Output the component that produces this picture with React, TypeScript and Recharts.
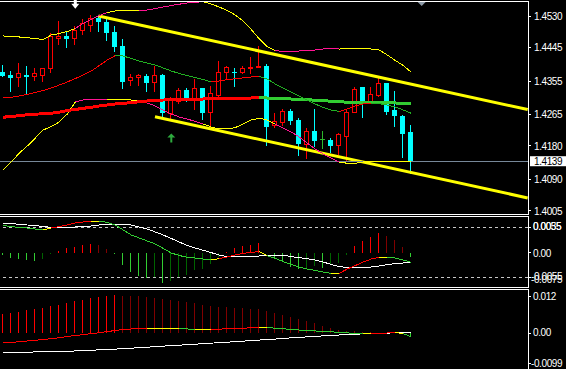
import React from "react";
import { ComposedChart, Bar, Line, XAxis, YAxis, ReferenceLine, ReferenceDot, Cell } from "recharts";

// ---------- colours ----------
const CYAN = "#00FFFF";
const RED = "#FF0000";
const DARK_RED = "#800000";
const LIME = "#32CD32";
const FAST_GREEN = "#22B022";
const DARK_GREEN = "#006400";
const YELLOW = "#FFFF00";
const PINK = "#FF1493";
const WHITE = "#FFFFFF";
const DOJI = "#2DB82D";
const FONT = "'Liberation Sans', Arial, sans-serif";

const PLOT_W = 528;
const AXIS_W = 38;
const X_DOMAIN: [number, number] = [-0.4125, 65.5875];

// ---------- price data (one entry per bar) ----------
const opens = [1.4380,1.4371,1.4365,1.4371,1.4368,1.4370,1.4389,1.4470,1.4477,1.4469,1.4492,1.4505,1.4524,1.4515,1.4486,1.4449,1.4356,1.4365,1.4368,1.4350,1.4371,1.4268,1.4301,1.4331,1.4306,1.4335,1.4270,1.4317,1.4378,1.4380,1.4378,1.4388,1.4391,1.4395,1.4235,1.4243,1.4274,1.4250,1.4183,1.4220,1.4198,1.4196,1.4181,1.4205,1.4270,1.4338,1.4299,1.4317,1.4349,1.4277,1.4262,1.4217];
const highs = [1.4398,1.4383,1.4404,1.4396,1.4389,1.4389,1.4483,1.4517,1.4488,1.4503,1.4521,1.4533,1.4533,1.4524,1.4503,1.4467,1.4374,1.4374,1.4374,1.4395,1.4374,1.4313,1.4335,1.4335,1.4360,1.4336,1.4342,1.4409,1.4396,1.4389,1.4396,1.4419,1.4449,1.4401,1.4270,1.4280,1.4279,1.4255,1.4229,1.4280,1.4220,1.4202,1.4216,1.4279,1.4338,1.4338,1.4338,1.4369,1.4349,1.4329,1.4263,1.4237];
const lows = [1.4365,1.4325,1.4338,1.4319,1.4354,1.4353,1.4377,1.4451,1.4443,1.4451,1.4478,1.4488,1.4488,1.4464,1.4434,1.4333,1.4342,1.4342,1.4326,1.4326,1.4255,1.4252,1.4293,1.4299,1.4277,1.4250,1.4225,1.4313,1.4358,1.4340,1.4374,1.4374,1.4391,1.4181,1.4228,1.4234,1.4237,1.4154,1.4145,1.4178,1.4172,1.4160,1.4156,1.4140,1.4269,1.4255,1.4295,1.4313,1.4263,1.4230,1.4147,1.4105];
const closes = [1.43685,1.4364,1.4374,1.4367,1.4374,1.4389,1.4474,1.4476,1.4468,1.4492,1.4509,1.4524,1.4515,1.4485,1.4447,1.4353,1.4365,1.43685,1.4349,1.4371,1.4268,1.4304,1.4329,1.4306,1.4335,1.4270,1.4322,1.4378,1.4392,1.4376,1.4389,1.4392,1.4394,1.4232,1.4245,1.4274,1.4248,1.4185,1.4220,1.4194,1.4198,1.4181,1.4210,1.4271,1.4331,1.4299,1.4319,1.4349,1.4272,1.4261,1.4212,1.4139];

const maSlow = [1.42575,1.42594,1.42616,1.42640,1.42656,1.42669,1.42683,1.42710,1.42756,1.42783,1.42815,1.42844,1.42877,1.42904,1.42931,1.42949,1.42966,1.42993,1.43011,1.43033,1.43038,1.43046,1.43057,1.43060,1.43062,1.43065,1.43071,1.43073,1.43076,1.43081,1.43087,1.43092,1.43097,1.43092,1.43084,1.43073,1.43065,1.43057,1.43046,1.43033,1.43019,1.43006,1.42993,1.42977,1.42971,1.42969,1.42966,1.42963,1.42960,1.42958,1.42955,1.42952];
const maFast = [1.43092,1.43111,1.43146,1.43192,1.43240,1.43294,1.43361,1.43442,1.43523,1.43617,1.43711,1.43819,1.43967,1.44115,1.44236,1.44223,1.44156,1.44088,1.44035,1.43981,1.43900,1.43819,1.43752,1.43698,1.43644,1.43590,1.43523,1.43550,1.43590,1.43609,1.43636,1.43658,1.43671,1.43604,1.43469,1.43361,1.43254,1.43146,1.43038,1.42931,1.42836,1.42769,1.42729,1.42796,1.42877,1.42931,1.42949,1.42941,1.42904,1.42850,1.42769,1.42680];
const bandUpper = [1.44762,1.44748,1.44735,1.44716,1.44694,1.44667,1.44788,1.44829,1.44883,1.44963,1.45103,1.45206,1.45313,1.45394,1.45435,1.45443,1.45448,1.45456,1.45462,1.45502,1.45542,1.45583,1.45618,1.45650,1.45672,1.45682,1.45623,1.45542,1.45448,1.45327,1.45165,1.44937,1.44681,1.44473,1.44371,1.44344,1.44344,1.44358,1.44371,1.44385,1.44411,1.44438,1.44411,1.44425,1.44425,1.44425,1.44411,1.44385,1.44250,1.44102,1.43967,1.43784];
const bandLower = [1.41154,1.41369,1.41611,1.41800,1.42015,1.42231,1.42325,1.42446,1.42661,1.42984,1.43038,1.43052,1.43057,1.43057,1.43057,1.43052,1.43038,1.43011,1.42958,1.42877,1.42769,1.42661,1.42581,1.42527,1.42459,1.42392,1.42311,1.42258,1.42258,1.42298,1.42392,1.42500,1.42546,1.42500,1.42392,1.42276,1.42177,1.42042,1.41881,1.41719,1.41584,1.41477,1.41369,1.41334,1.41334,1.41369,1.41377,1.41377,1.41377,1.41377,1.41382,1.41396];

const channelUpper = [{ i: 11.9, p: 1.4530 }, { i: 65.55, p: 1.42782 }];
const channelLower = [{ i: 18.96, p: 1.42589 }, { i: 65.55, p: 1.40402 }];
const sellArrows = [{ i: 9, p: 1.4560 }];
const buyArrows = [{ i: 21, p: 1.4203 }];
const shiftMarker = [{ i: 52.3, p: 1.4564 }];

const priceTicks = [1.4530, 1.4445, 1.4355, 1.4265, 1.4180, 1.4090, 1.4005];
const priceDomain: [number, number] = [1.39969, 1.45704];
const currentPrice = 1.4139;

// ---------- oscillator 1 ----------
const osc1Hist = [-0.00055,-0.00114,-0.00143,-0.00165,-0.00180,-0.00150,-0.00033,0.00040,0.00092,0.00128,0.00165,0.00187,0.00165,0.00084,-0.00033,-0.00275,-0.00422,-0.00517,-0.00568,-0.00561,-0.00664,-0.00627,-0.00532,-0.00495,-0.00385,-0.00370,-0.00260,-0.00092,0.00022,0.00092,0.00150,0.00176,0.00216,-0.00011,-0.00128,-0.00202,-0.00312,-0.00363,-0.00348,-0.00290,-0.00348,-0.00275,-0.00238,-0.00055,0.00143,0.00260,0.00348,0.00436,0.00370,0.00275,0.00128,-0.00092];
const osc1Main = [0.00642,0.00642,0.00616,0.00605,0.00594,0.00572,0.00554,0.00554,0.00554,0.00561,0.00568,0.00583,0.00605,0.00620,0.00620,0.00620,0.00605,0.00561,0.00517,0.00451,0.00385,0.00308,0.00231,0.00154,0.00099,0.00048,-0.00004,-0.00055,-0.00092,-0.00092,-0.00088,-0.00088,-0.00077,-0.00070,-0.00062,-0.00055,-0.00092,-0.00114,-0.00136,-0.00165,-0.00209,-0.00264,-0.00308,-0.00334,-0.00334,-0.00330,-0.00319,-0.00297,-0.00268,-0.00242,-0.00231,-0.00216];
const osc1Signal = [0.00594,0.00568,0.00554,0.00539,0.00517,0.00495,0.00539,0.00572,0.00605,0.00649,0.00671,0.00693,0.00693,0.00660,0.00605,0.00495,0.00385,0.00319,0.00253,0.00187,0.00088,-0.00011,-0.00066,-0.00106,-0.00121,-0.00143,-0.00165,-0.00132,-0.00099,-0.00055,-0.00018,0.00004,0.00018,-0.00070,-0.00128,-0.00202,-0.00264,-0.00319,-0.00363,-0.00396,-0.00429,-0.00458,-0.00458,-0.00363,-0.00286,-0.00209,-0.00143,-0.00106,-0.00106,-0.00121,-0.00165,-0.00216];
const osc1Levels = [0.0055, -0.0055];
const osc1Ticks = [0.0055, 0, -0.0055];
const osc1Labels = [["0.0055", "0.0035"], ["0.00"], ["-0.0055", "-0.0075"]];
const osc1Domain: [number, number] = [-0.00781, 0.00803];

// ---------- oscillator 2 ----------
const osc2Hist = [0.00540,0.00568,0.00596,0.00651,0.00679,0.00706,0.00762,0.00789,0.00845,0.00900,0.00928,0.00983,0.01011,0.01039,0.01066,0.01039,0.01035,0.01030,0.01011,0.00983,0.00956,0.00928,0.00900,0.00873,0.00845,0.00789,0.00762,0.00734,0.00730,0.00706,0.00700,0.00679,0.00675,0.00623,0.00568,0.00512,0.00457,0.00402,0.00346,0.00291,0.00208,0.00152,0.00097,0.00069,0.00065,0.00042,0.00022,0.00014,0.00010,0.00005,-0.00030,-0.00090];
const osc2Main = [-0.00546,-0.00526,-0.00524,-0.00521,-0.00518,-0.00515,-0.00507,-0.00499,-0.00496,-0.00490,-0.00476,-0.00468,-0.00460,-0.00449,-0.00438,-0.00427,-0.00416,-0.00396,-0.00385,-0.00368,-0.00357,-0.00341,-0.00330,-0.00313,-0.00302,-0.00285,-0.00274,-0.00258,-0.00247,-0.00230,-0.00219,-0.00199,-0.00188,-0.00172,-0.00161,-0.00141,-0.00127,-0.00111,-0.00100,-0.00086,-0.00072,-0.00058,-0.00047,-0.00033,-0.00025,-0.00017,-0.00008,0.00000,0.00006,0.00011,0.00019,0.00025];
const osc2Signal = [-0.00269,-0.00255,-0.00233,-0.00213,-0.00194,-0.00172,-0.00150,-0.00122,-0.00089,-0.00061,-0.00036,-0.00011,0.00017,0.00047,0.00078,0.00105,0.00119,0.00127,0.00133,0.00136,0.00136,0.00136,0.00133,0.00119,0.00111,0.00108,0.00108,0.00114,0.00130,0.00136,0.00141,0.00152,0.00163,0.00158,0.00141,0.00125,0.00108,0.00091,0.00078,0.00064,0.00050,0.00039,0.00028,0.00011,-0.00006,-0.00011,-0.00008,0.00003,0.00008,0.00022,-0.00010,-0.00100];
const osc2Ticks = [0.012, 0, -0.0099];
const osc2Labels = [["0.012"], ["0.00"], ["-0.0099"]];
const osc2Domain: [number, number] = [-0.0099, 0.012];

// ---------- helpers ----------
type Row = Record<string, any>;
type Run = { key: string; color: string };

function addRuns(rows: Row[], values: number[], prefix: string, colorOf: (k: number) => string): Run[] {
  const runs: Run[] = [];
  let cur: Run | null = null;
  for (let k = 1; k < values.length; k++) {
    const col = colorOf(k);
    if (!cur || cur.color !== col) {
      cur = { key: prefix + runs.length, color: col };
      runs.push(cur);
      rows[k - 1][cur.key] = values[k - 1];
    }
    rows[k][cur.key] = values[k];
  }
  return runs;
}

const turnColor = (vals: number[], eps: number) => (k: number) => {
  const d = vals[k] - vals[k - 1];
  if (Math.abs(d) < eps) return YELLOW;
  const prev = k > 1 ? vals[k - 1] - vals[k - 2] : d;
  if (Math.abs(prev) >= eps && Math.sign(prev) !== Math.sign(d)) return YELLOW;
  return d > 0 ? RED : LIME;
};

const histColor = (vals: number[], k: number, posUp: string, posDown: string, negUp: string, negDown: string) => {
  const v = vals[k];
  const p = k > 0 ? vals[k - 1] : 0;
  if (v >= 0) return v >= p ? posUp : posDown;
  return v <= p ? negUp : negDown;
};

// ---------- rows ----------
const mainRows: Row[] = opens.map((o, k) => ({ i: k, o, h: highs[k], l: lows[k], c: closes[k] }));
const bandWidth = bandUpper.map((u, k) => u - bandLower[k]);
const bandColor = (k: number) => (bandWidth[k] - bandWidth[k - 1] > 0.0005 ? PINK : YELLOW);
const upperRuns = addRuns(mainRows, bandUpper, "bu", bandColor);
const lowerRuns = addRuns(mainRows, bandLower, "bl", bandColor);
const slowRuns = addRuns(mainRows, maSlow, "ms", (k) => (maSlow[k] >= maSlow[k - 1] ? RED : LIME));
const fastRuns = addRuns(mainRows, maFast, "mf", (k) => (maFast[k] >= maFast[k - 1] ? RED : FAST_GREEN));

const osc1Rows: Row[] = osc1Hist.map((v, k) => ({ i: k, hist: v, main: osc1Main[k] }));
const osc1Runs = addRuns(osc1Rows, osc1Signal, "sg", turnColor(osc1Signal, 0.00005));
const osc2Rows: Row[] = osc2Hist.map((v, k) => ({ i: k, hist: v, main: osc2Main[k] }));
const osc2Runs = addRuns(osc2Rows, osc2Signal, "sg", turnColor(osc2Signal, 0.00004));

// ---------- shapes ----------
const Candle = (props: any) => {
  const { x, y, width, height, payload } = props;
  if (!payload || x == null) return null;
  const { o, h, l, c } = payload;
  const top = Math.min(y, y + height);
  const bot = Math.max(y, y + height);
  const span = h - l || 1e-9;
  const py = (v: number) => top + ((h - v) / span) * (bot - top);
  const cx = Math.floor(x + width / 2) + 0.5;
  const yo = py(o);
  const yc = py(c);
  const bTop = Math.min(yo, yc);
  const bH = Math.max(Math.abs(yo - yc), 1);
  if (c > o) {
    return (
      <g shapeRendering="crispEdges">
        <line x1={cx} x2={cx} y1={top} y2={bot} stroke={RED} />
        <rect x={cx - 2} y={bTop} width={4} height={bH} fill="#000" stroke={RED} />
      </g>
    );
  }
  if (c < o) {
    return (
      <g shapeRendering="crispEdges">
        <line x1={cx} x2={cx} y1={top} y2={bot} stroke={CYAN} />
        <rect x={cx - 2.5} y={bTop} width={5} height={bH} fill={CYAN} />
      </g>
    );
  }
  return (
    <g shapeRendering="crispEdges">
      <line x1={cx} x2={cx} y1={top} y2={bot} stroke={DOJI} />
      <line x1={cx - 2.5} x2={cx + 2.5} y1={yo} y2={yo} stroke={DOJI} />
    </g>
  );
};

const DownArrow = (p: any) => {
  const { cx, cy } = p;
  return (
    <path
      d={`M${cx - 1.5},${cy - 5} L${cx + 1.5},${cy - 5} L${cx + 1.5},${cy - 1} L${cx + 4},${cy - 1} L${cx},${cy + 4} L${cx - 4},${cy - 1} L${cx - 1.5},${cy - 1} Z`}
      fill={WHITE}
    />
  );
};
const UpArrow = (p: any) => {
  const { cx, cy } = p;
  return (
    <path
      d={`M${cx - 1},${cy + 5} L${cx + 1},${cy + 5} L${cx + 1},${cy} L${cx + 4},${cy} L${cx},${cy - 4} L${cx - 4},${cy} L${cx - 1},${cy} Z`}
      fill="#2EAA3E"
    />
  );
};
const ShiftTriangle = (p: any) => {
  const { cx, cy } = p;
  return <path d={`M${cx - 5},${cy - 2.5} L${cx + 5},${cy - 2.5} L${cx},${cy + 2.5} Z`} fill="#8C99A6" />;
};

const textProps = { fill: WHITE, fontSize: 10, fontFamily: FONT, letterSpacing: -0.4 } as const;

const PriceTick = (p: any) => {
  const { y, payload } = p;
  return (
    <g>
      <line x1={PLOT_W} x2={PLOT_W + 3} y1={y} y2={y} stroke={WHITE} shapeRendering="crispEdges" />
      <text x={PLOT_W + 6} y={y + 3.6} {...textProps}>{Number(payload.value).toFixed(4)}</text>
    </g>
  );
};

const makeOscTick = (ticks: number[], labels: string[][], offsets: number[][], minY: number, maxY: number) => (p: any) => {
  const { y, payload } = p;
  const k = ticks.indexOf(payload.value);
  if (k < 0) return null;
  const yy = Math.min(Math.max(y, minY), maxY);
  return (
    <g>
      <line x1={PLOT_W} x2={PLOT_W + 3} y1={yy} y2={yy} stroke={WHITE} shapeRendering="crispEdges" />
      {labels[k].map((t, j) => (
        <text key={j} x={PLOT_W + (t.startsWith("-") ? 3 : 5)} y={yy + 3.6 + offsets[k][j]} {...textProps}>{t}</text>
      ))}
    </g>
  );
};
const Osc1Tick = makeOscTick(osc1Ticks, osc1Labels, [[-1.5, -1], [0.8], [-1.5, 2]], 0, 72);
const Osc2Tick = makeOscTick(osc2Ticks, osc2Labels, [[0], [-1], [0]], 6.7, 73);

const PriceLabel = (p: any) => {
  const vb = p.viewBox || {};
  const y = vb.y ?? 0;
  const x = (vb.x ?? 0) + (vb.width ?? PLOT_W) + 2;
  return (
    <g>
      <rect x={x} y={y - 5} width={36} height={10} fill={WHITE} />
      <text x={x + 4} y={y + 3.6} fill="#000" fontSize={10} fontFamily={FONT} letterSpacing={-0.4}>{currentPrice.toFixed(4)}</text>
    </g>
  );
};

const lineCommon = { dot: false, activeDot: false, isAnimationActive: false, type: "linear" as const, shapeRendering: "crispEdges" } as any;

export default function App() {
  return (
    <div style={{ position: "absolute", left: 0, top: 0, width: 566, height: 369, background: "#000", overflow: "hidden" }}>
      {/* main price panel (extra bottom margin keeps the lowest label uncut) */}
      <div style={{ position: "absolute", left: 0, top: 0 }}>
        <ComposedChart width={566} height={221} data={mainRows} margin={{ top: 1, right: 0, bottom: 7, left: 0 }}>
          <XAxis type="number" dataKey="i" domain={X_DOMAIN} hide allowDataOverflow />
          <YAxis orientation="right" width={AXIS_W} domain={priceDomain} ticks={priceTicks} allowDataOverflow interval={0} tick={PriceTick} tickLine={false} axisLine={false} />
          <ReferenceLine segment={[{ x: channelUpper[0].i, y: channelUpper[0].p }, { x: channelUpper[1].i, y: channelUpper[1].p }]} stroke={YELLOW} strokeWidth={3} ifOverflow="hidden" />
          <ReferenceLine segment={[{ x: channelLower[0].i, y: channelLower[0].p }, { x: channelLower[1].i, y: channelLower[1].p }]} stroke={YELLOW} strokeWidth={3} ifOverflow="hidden" />
          <ReferenceLine y={currentPrice} stroke="#778899" shapeRendering="crispEdges" label={<PriceLabel />} />
          {upperRuns.map((r) => <Line key={r.key} dataKey={r.key} stroke={r.color} strokeWidth={1} {...lineCommon} />)}
          {lowerRuns.map((r) => <Line key={r.key} dataKey={r.key} stroke={r.color} strokeWidth={1} {...lineCommon} />)}
          {slowRuns.map((r) => <Line key={r.key} dataKey={r.key} stroke={r.color} strokeWidth={3} {...lineCommon} />)}
          {fastRuns.map((r) => <Line key={r.key} dataKey={r.key} stroke={r.color} strokeWidth={1} {...lineCommon} />)}
          <Bar dataKey={(r: Row) => [r.l, r.h]} barSize={5} shape={<Candle />} isAnimationActive={false} />
          {sellArrows.map((a, k) => <ReferenceDot key={"s" + k} x={a.i} y={a.p} shape={<DownArrow />} />)}
          {buyArrows.map((a, k) => <ReferenceDot key={"b" + k} x={a.i} y={a.p} shape={<UpArrow />} />)}
          {shiftMarker.map((a, k) => <ReferenceDot key={"m" + k} x={a.i} y={a.p} shape={<ShiftTriangle />} />)}
        </ComposedChart>
      </div>

      {/* oscillator 1 */}
      <div style={{ position: "absolute", left: 0, top: 216 }}>
        <ComposedChart width={566} height={72} data={osc1Rows} margin={{ top: 0, right: 0, bottom: 0, left: 0 }}>
          <XAxis type="number" dataKey="i" domain={X_DOMAIN} hide allowDataOverflow />
          <YAxis orientation="right" width={AXIS_W} domain={osc1Domain} ticks={osc1Ticks} allowDataOverflow interval={0} tick={Osc1Tick} tickLine={false} axisLine={false} />
          {osc1Levels.map((lv) => <ReferenceLine key={lv} y={lv} stroke="#C8C8C8" strokeDasharray="3 3" shapeRendering="crispEdges" />)}
          <Bar dataKey="hist" barSize={1} isAnimationActive={false} shapeRendering="crispEdges">
            {osc1Hist.map((_, k) => <Cell key={k} fill={histColor(osc1Hist, k, RED, DARK_RED, LIME, DARK_GREEN)} />)}
          </Bar>
          <Line dataKey="main" stroke={WHITE} strokeWidth={1} {...lineCommon} />
          {osc1Runs.map((r) => <Line key={r.key} dataKey={r.key} stroke={r.color} strokeWidth={1} {...lineCommon} />)}
        </ComposedChart>
      </div>

      {/* oscillator 2 */}
      <div style={{ position: "absolute", left: 0, top: 290 }}>
        <ComposedChart width={566} height={79} data={osc2Rows} margin={{ top: 0, right: 0, bottom: 0, left: 0 }}>
          <XAxis type="number" dataKey="i" domain={X_DOMAIN} hide allowDataOverflow />
          <YAxis orientation="right" width={AXIS_W} domain={osc2Domain} ticks={osc2Ticks} allowDataOverflow interval={0} tick={Osc2Tick} tickLine={false} axisLine={false} />
          <Bar dataKey="hist" barSize={1} isAnimationActive={false} shapeRendering="crispEdges">
            {osc2Hist.map((_, k) => <Cell key={k} fill={histColor(osc2Hist, k, RED, DARK_RED, LIME, LIME)} />)}
          </Bar>
          <Line dataKey="main" stroke={WHITE} strokeWidth={1} {...lineCommon} />
          {osc2Runs.map((r) => <Line key={r.key} dataKey={r.key} stroke={r.color} strokeWidth={1} {...lineCommon} />)}
        </ComposedChart>
      </div>

      {/* panel frames */}
      <svg width={566} height={369} style={{ position: "absolute", left: 0, top: 0, pointerEvents: "none" }} shapeRendering="crispEdges">
        <g stroke={WHITE} strokeWidth={1}>
          <line x1={0} x2={PLOT_W + 0.5} y1={1.5} y2={1.5} />
          <line x1={PLOT_W + 0.5} x2={PLOT_W + 0.5} y1={1} y2={215} />
          <line x1={0} x2={PLOT_W + 0.5} y1={214.5} y2={214.5} />
          <line x1={0} x2={PLOT_W + 0.5} y1={216.5} y2={216.5} />
          <line x1={PLOT_W + 0.5} x2={PLOT_W + 0.5} y1={216} y2={288} />
          <line x1={0} x2={PLOT_W + 0.5} y1={287.5} y2={287.5} />
          <line x1={0} x2={PLOT_W + 0.5} y1={289.5} y2={289.5} />
          <line x1={PLOT_W + 0.5} x2={PLOT_W + 0.5} y1={289} y2={369} />
        </g>
      </svg>
    </div>
  );
}
